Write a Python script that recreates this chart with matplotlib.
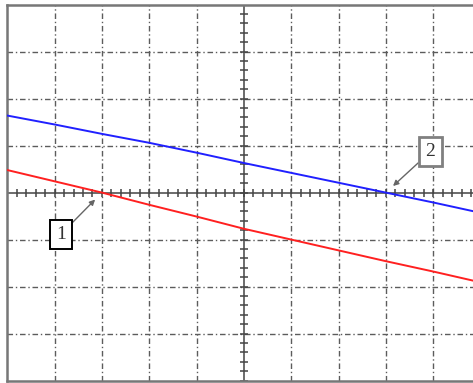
"""Scope-style screen: two traces on a 10x8 division graticule with cursor markers."""

import numpy as np
import matplotlib.pyplot as plt

# trace samples, one per horizontal division (x and y in divisions)
div_x = [-5, -4, -3, -2, -1, 0, 1, 2, 3, 4, 5]
trace_blue = [1.64, 1.45, 1.25, 1.06, 0.85, 0.63, 0.42, 0.21, 0.0, -0.21, -0.43]
trace_red = [0.48, 0.24, 0.0, -0.26, -0.51, -0.77, -1.0, -1.23, -1.46, -1.68, -1.91]

# cursor markers: label, point marked, label position
markers = [
    ("1", (-3.0, 0.0), (-3.87, -0.89), "black"),
    ("2", (3.0, 0.0), (3.94, 0.87), "#808080"),
]

GRID = "#5c5c5c"


def draw_graticule(ax):
    for gx in range(-4, 5):
        if gx != 0:
            ax.axvline(gx, color=GRID, lw=1.0, ls=(0, (4, 2, 1, 2)), zorder=1)
    for gy in range(-3, 4):
        if gy != 0:
            ax.axhline(gy, color=GRID, lw=1.0, ls=(0, (4, 2, 1, 2)), zorder=1)

    # centre axes with minor ticks every 0.2 div
    ax.axvline(0, color="#444444", lw=1.1, zorder=1)
    ax.axhline(0, color="#444444", lw=1.1, zorder=1)
    ticks_x = np.arange(-5, 5.01, 0.2)
    ticks_y = np.arange(-4, 4.01, 0.2)
    ax.plot(ticks_x, np.zeros_like(ticks_x), ls="none", marker="|",
            ms=6, mew=1.1, color="#444444", zorder=1)
    ax.plot(np.zeros_like(ticks_y), ticks_y, ls="none", marker="_",
            ms=6, mew=1.1, color="#444444", zorder=1)


def main():
    fig = plt.figure(figsize=(4.73, 3.83), dpi=100)
    ax = fig.add_axes([7.3 / 473, 2.5 / 383, 473.2 / 473, 375.8 / 383])
    ax.set_xlim(-5, 5)
    ax.set_ylim(-4, 4)
    ax.set_xticks([])
    ax.set_yticks([])
    for side in ax.spines.values():
        side.set_color("#777777")
        side.set_linewidth(1.8)

    draw_graticule(ax)

    ax.plot(div_x, trace_blue, color="#2020ff", lw=1.4, zorder=3)
    ax.plot(div_x, trace_red, color="#ff2020", lw=1.4, zorder=3)

    for label, point, pos, edge in markers:
        ax.annotate(label, xy=point, xytext=pos, ha="center", va="center",
                    fontsize=14, family="Liberation Serif", color="#333333",
                    bbox=dict(boxstyle="square,pad=0.32", fc="white", ec=edge,
                              lw=1.4 if edge == "black" else 2.0),
                    arrowprops=dict(arrowstyle="-|>", color="#666666", lw=1.0,
                                    mutation_scale=8, shrinkA=0, shrinkB=7),
                    zorder=4)

    fig.savefig("out.png", dpi=100)


if __name__ == "__main__":
    main()
